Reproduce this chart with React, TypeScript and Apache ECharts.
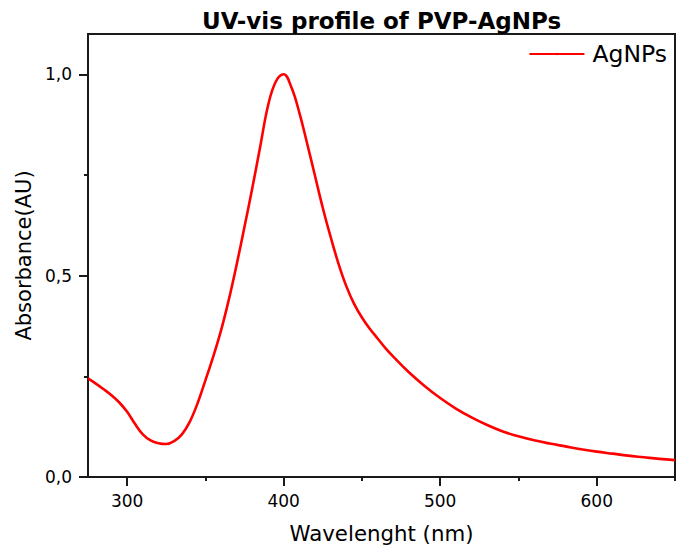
import React, { useEffect, useRef } from "react";
import * as echarts from "echarts";

const wavelengths = [
  275, 280, 285, 290, 295, 300, 305, 310, 315, 320, 325, 330, 335, 340, 345, 350, 355, 360,
  365, 370, 375, 380, 385, 390, 395, 400, 405, 410, 415, 420, 425, 430, 435, 440, 445,
  450, 455, 460, 465, 470, 480, 490, 500, 510, 520, 530, 540, 550, 560, 570, 580, 590, 600,
  610, 620, 630, 640, 650,
];
const absorbance = [
  0.245, 0.232, 0.218, 0.203, 0.185, 0.162, 0.132, 0.106, 0.091, 0.084, 0.082, 0.089, 0.106,
  0.137, 0.183, 0.24, 0.299, 0.364, 0.441, 0.528, 0.622, 0.718, 0.82, 0.922, 0.982, 1.0,
  0.967, 0.905, 0.828, 0.748, 0.668, 0.596, 0.53, 0.474, 0.43, 0.396, 0.368, 0.344, 0.32,
  0.299, 0.26, 0.226, 0.196, 0.17, 0.148, 0.129, 0.113, 0.101, 0.091, 0.083, 0.076, 0.069,
  0.063, 0.058, 0.053, 0.049, 0.045, 0.042,
];
const xMajorTicks = [300, 400, 500, 600];
const xMinorTicks = [350, 450, 550, 650];
const yMajorTicks = [0, 0.5, 1.0];
const yMinorTicks = [0.25, 0.75];

const FONT = "DejaVu Sans";
const AXIS_COLOR = "#1a1a1a";

export default function App() {
  const ref = useRef<HTMLDivElement>(null);
  useEffect(() => {
    if (!ref.current) return;
    const chart = echarts.init(ref.current, null, { renderer: "svg" });
    const data = wavelengths.map((w, i) => [w, absorbance[i]]);
    chart.setOption({
      animation: false,
      backgroundColor: "#ffffff",
      title: {
        text: "UV-vis profile of PVP-AgNPs",
        left: 202,
        top: 9,
        padding: 0,
        textStyle: { fontFamily: FONT, fontWeight: "bold", fontSize: 23, color: "#000" },
      },
      legend: {
        data: ["AgNPs"],
        right: 12,
        top: 42,
        padding: 0,
        itemWidth: 55,
        itemHeight: 3,
        textStyle: { fontFamily: FONT, fontSize: 23.5, color: "#000", padding: [0, 0, 0, 3] },
      },
      grid: {
        left: 88,
        right: 4,
        top: 34,
        bottom: 71,
        show: true,
        borderColor: AXIS_COLOR,
        borderWidth: 2,
        backgroundColor: "transparent",
      },
      xAxis: [
        {
          type: "value",
          min: 275,
          max: 650,
          name: "Wavelenght (nm)",
          nameLocation: "middle",
          nameGap: 46,
          nameTextStyle: { fontFamily: FONT, fontSize: 21.3, color: "#000" },
          axisLine: { show: true, lineStyle: { color: AXIS_COLOR, width: 2 } },
          axisTick: { show: true, customValues: xMajorTicks, length: 9, lineStyle: { color: AXIS_COLOR, width: 2 } },
          axisLabel: {
            customValues: xMajorTicks,
            fontFamily: FONT,
            fontSize: 17,
            color: "#000",
            margin: 15,
          },
          splitLine: { show: false },
        },
        {
          type: "value",
          min: 275,
          max: 650,
          position: "bottom",
          axisLine: { show: false },
          axisTick: { show: true, customValues: xMinorTicks, length: 4, lineStyle: { color: AXIS_COLOR, width: 2 } },
          axisLabel: { show: false },
          splitLine: { show: false },
        },
      ],
      yAxis: [
        {
          type: "value",
          min: 0,
          max: 1.1,
          name: "Absorbance(AU)",
          nameLocation: "middle",
          nameGap: 50,
          nameTextStyle: { fontFamily: FONT, fontSize: 21, color: "#000" },
          axisLine: { show: true, lineStyle: { color: AXIS_COLOR, width: 2 } },
          axisTick: { show: true, customValues: yMajorTicks, length: 9, lineStyle: { color: AXIS_COLOR, width: 2 } },
          axisLabel: {
            customValues: yMajorTicks,
            fontFamily: FONT,
            fontSize: 17,
            color: "#000",
            margin: 16,
            formatter: (v: number) => v.toFixed(1).replace(".", ","),
          },
          splitLine: { show: false },
        },
        {
          type: "value",
          min: 0,
          max: 1.1,
          position: "left",
          axisLine: { show: false },
          axisTick: { show: true, customValues: yMinorTicks, length: 4, lineStyle: { color: AXIS_COLOR, width: 2 } },
          axisLabel: { show: false },
          splitLine: { show: false },
        },
      ],
      series: [
        {
          name: "AgNPs",
          type: "line",
          data,
          smooth: 0.4,
          symbol: "none",
          lineStyle: { color: "#ff0000", width: 2.6 },
          itemStyle: { color: "#ff0000" },
        },
      ],
    });
    return () => chart.dispose();
  }, []);
  return (
    <div
      ref={ref}
      style={{ position: "fixed", left: 0, top: 0, width: 679, height: 549 }}
    />
  );
}
